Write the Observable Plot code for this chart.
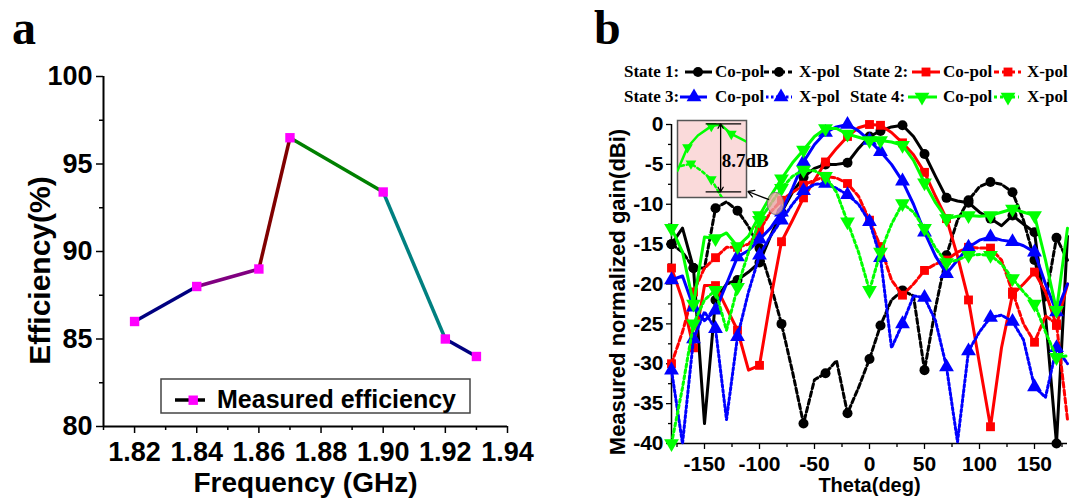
<!DOCTYPE html>
<html><head><meta charset="utf-8">
<script src="https://cdn.jsdelivr.net/npm/d3@7"></script>
<script src="https://cdn.jsdelivr.net/npm/@observablehq/plot@0.6"></script>
<style>
html,body{margin:0;padding:0;background:#fff;}
#root{position:relative;width:1085px;height:502px;overflow:hidden;background:#fff;}
#root > svg{position:absolute;overflow:visible;}
</style></head><body><div id="root"></div>
<script>
// ---------------- DATA: panel a ----------------
const frequencyGHz = [1.82, 1.84, 1.86, 1.87, 1.90, 1.92, 1.93];
const efficiencyPct = [86, 88, 89, 96.5, 93.4, 85, 84];
const effMajorY = [80, 85, 90, 95, 100];
const effMinorY = [82.5, 87.5, 92.5, 97.5];
const freqMajorX = [1.82, 1.84, 1.86, 1.88, 1.90, 1.92, 1.94];
const freqMinorX = [1.81, 1.83, 1.85, 1.87, 1.89, 1.91, 1.93];

// ---------------- DATA: panel b ----------------
const thetaDeg = [-180,-170,-160,-150,-140,-130,-120,-110,-100,-90,-80,-70,-60,-50,-40,-30,-20,-10,0,10,20,30,40,50,60,70,80,90,100,110,120,130,140,150,160,170,180];
const state1Co = [-15,-13,-18,-37.5,-22,-20,-19.5,-18.5,-17.3,-14,-11,-8.5,-6.6,-5.5,-5,-5,-4.8,-3,-1.5,-0.8,-0.3,-0.1,-1.5,-3.7,-6.5,-9.2,-9.6,-9.8,-11,-11.8,-12.7,-11.4,-12.5,-13.5,-24,-40,-14];
const state1X  = [-15,-16,-18,-18,-10.5,-9.7,-10.8,-12.8,-15.5,-20,-25,-31,-37.5,-32,-31.2,-29.6,-36.2,-33,-29.4,-25.2,-22,-20.8,-21.5,-30.8,-23,-16.4,-12,-9.5,-7.8,-7.2,-7.5,-8.5,-12,-17,-22,-14.2,-17];
const state2Co = [-18,-22,-28,-20.2,-20.2,-23,-25.8,-30.8,-30.2,-22,-14.7,-12,-9.2,-7,-4.7,-3,-1.5,-0.4,0,-0.1,-1,-2.3,-3.8,-6,-9,-11.8,-16.5,-22,-30,-37.9,-28,-21.3,-20,-18.5,-21,-25.2,-20];
const state2X  = [-30,-26,-21,-18,-16.7,-15.4,-15.4,-15,-13.3,-11,-9.5,-8.5,-7.6,-7,-6.5,-6.7,-7.4,-9,-12,-15.3,-19.5,-21.4,-20,-18.3,-17.5,-17,-16,-15.4,-15.5,-15.5,-17,-21,-25,-27.3,-24,-25,-37];
const state3Co = [-19.5,-19,-22.9,-24.6,-23.3,-20,-16.6,-15.8,-14.4,-13,-11,-8,-4.7,-2.5,-1,-0.3,0,-0.8,-2,-3.4,-5,-7.1,-10,-13.5,-16.5,-18.7,-17,-15.4,-14.5,-14.1,-14.5,-14.7,-15.2,-16,-20,-23.5,-20];
const state3X  = [-30.8,-40,-26.9,-23.5,-25.6,-37,-26.6,-21,-16.4,-14,-12,-10,-8.3,-7.5,-7.4,-8,-8.8,-10,-12.2,-16.7,-28,-25,-21.5,-21.7,-24.6,-30.4,-39.8,-28.4,-26,-24.2,-23.9,-24.7,-27,-32.9,-34.2,-28,-30];
const state4Co = [-13,-16,-22.5,-14.1,-14.3,-13.6,-15.3,-14,-11.4,-9,-6.8,-4.8,-3.2,-1.5,-0.5,-0.5,-1.2,-1.6,-2,-2,-2.2,-2.6,-4.5,-7.3,-9.8,-11.8,-11.5,-11.4,-11.5,-11.4,-11,-10.6,-11,-11.4,-17,-23.3,-13];
const state4X  = [-40,-33,-25,-22,-20.8,-25.8,-20.4,-16,-12,-10,-8,-6.5,-5.7,-5.8,-6.5,-8.5,-12.2,-16,-20.8,-16,-12.5,-9.9,-11,-13,-15.5,-17.3,-17,-16.4,-16.3,-16.4,-17.5,-19.3,-21,-22.5,-26,-29.2,-29];
const markerAngles = [-180,-160,-140,-120,-100,-80,-60,-40,-20,0,10,30,50,70,90,110,130,150,170];
const thetaMajor = [-150,-100,-50,0,50,100,150];
const thetaMinor = [-175,-125,-75,-25,25,75,125,175];
const gainMajor = [0,-5,-10,-15,-20,-25,-30,-35,-40];
const gainMinor = [-2.5,-7.5,-12.5,-17.5,-22.5,-27.5,-32.5,-37.5];

// inset (zoomed view of state 4 around its peak)
const insetCoTheta = [-50,-47.1,-44.1,-40.2,-37.5,-34.4,-30];
const insetCoGain  = [-6.0,-3.0,-1.5,-0.3,-0.1,-1.3,-2.3];
const insetXTheta  = [-49,-46.1,-43.1,-40.2,-36.8];
const insetXGain   = [-5.4,-5.1,-6.0,-7.1,-9.7];
const insetCoMarks = [-47.1,-40.2,-34.4];
const insetXMarks  = [-46.1,-40.2];
const insetDelta = 8.7;
const insetLabel = "8.7dB";

// ---------------- STYLES ----------------
const segColors = ["#000080","#800080","#800000","#008000","#008080","#000080"];
const SANS = "'Liberation Sans', Arial, sans-serif";
const SERIF = "'Liberation Serif', 'Times New Roman', serif";
const sqrt3 = Math.sqrt(3);
const triangleDown = {draw(ctx, size){const y=-Math.sqrt(size/(sqrt3*3));ctx.moveTo(0,-2*y);ctx.lineTo(-sqrt3*y,y);ctx.lineTo(sqrt3*y,y);ctx.closePath();}};
const ellipseSym = {draw(ctx,size){const r=Math.sqrt(size/Math.PI);const rx=r*0.74,ry=r,k=0.5523;ctx.moveTo(rx,0);ctx.bezierCurveTo(rx,ry*k,rx*k,ry,0,ry);ctx.bezierCurveTo(-rx*k,ry,-rx,ry*k,-rx,0);ctx.bezierCurveTo(-rx,-ry*k,-rx*k,-ry,0,-ry);ctx.bezierCurveTo(rx*k,-ry,rx,-ry*k,rx,0);ctx.closePath();}};

const seriesDefs = [
  {key:"s1x", values: state1X,  color:"#000000", dash:"5,3",   symbol:"circle",   r:5},
  {key:"s1c", values: state1Co, color:"#000000", dash:null,    symbol:"circle",   r:5},
  {key:"s2x", values: state2X,  color:"#ff0000", dash:"5,3",   symbol:"square",   r:5},
  {key:"s2c", values: state2Co, color:"#ff0000", dash:null,    symbol:"square",   r:5},
  {key:"s3x", values: state3X,  color:"#0000ff", dash:"2.5,2.5", symbol:"triangle", r:5.5},
  {key:"s3c", values: state3Co, color:"#0000ff", dash:null,    symbol:"triangle", r:5.5},
  {key:"s4x", values: state4X,  color:"#00ff00", dash:"3,3",   symbol:triangleDown, r:5.5},
  {key:"s4c", values: state4Co, color:"#00ff00", dash:null,    symbol:triangleDown, r:5.5}
];

const root = document.getElementById("root");

// ---------------- PANEL A ----------------
const effPts = frequencyGHz.map((f,i)=>({f, e: efficiencyPct[i]}));
const effSegs = effPts.slice(0,-1).map((p,i)=>({f1:p.f,e1:p.e,f2:effPts[i+1].f,e2:effPts[i+1].e,c:segColors[i]}));
const fmt = d => String(d);
const panelA = Plot.plot({
  width: 560, height: 502,
  marginLeft: 103, marginRight: 53, marginTop: 76, marginBottom: 76,
  x: {domain: [1.81, 1.94]},
  y: {domain: [80, 100]},
  style: {fontFamily: SANS, fontWeight: "bold", fontSize: "27px", color: "#000", background: "transparent", overflow: "visible"},
  marks: [
    Plot.axisY({ticks: effMajorY, tickSize: 7, tickPadding: 4, tickFormat: fmt, label: null, strokeWidth: 1.5}),
    Plot.axisY({ticks: effMinorY, tickSize: 4, tickFormat: () => "", label: null, strokeWidth: 1.5}),
    Plot.axisX({ticks: freqMajorX, tickSize: 7, tickPadding: 8, tickFormat: d3.format(".2f"), label: null, strokeWidth: 1.5}),
    Plot.axisX({ticks: freqMinorX, tickSize: 4, tickFormat: () => "", label: null, strokeWidth: 1.5}),
    Plot.ruleX([1.81], {strokeWidth: 2}),
    Plot.ruleY([80], {strokeWidth: 2}),
    Plot.link(effSegs, {x1:"f1", y1:"e1", x2:"f2", y2:"e2", stroke: d => d.c, strokeWidth: 3.5}),
    Plot.dot(effPts, {x:"f", y:"e", symbol:"square", r: 5.3, fill:"#ff00ff"}),
    Plot.text(["Frequency (GHz)"], {frameAnchor:"bottom", lineAnchor:"middle", textAnchor:"middle", dy: 57, fontSize: 28, fontWeight:"bold"}),
    Plot.text(["Efficiency(%)"], {frameAnchor:"left", lineAnchor:"middle", textAnchor:"middle", rotate: -90, dx: -63, dy: 19, fontSize: 30, fontWeight:"bold"})
  ]
});
panelA.style.left = "0px"; panelA.style.top = "0px";
root.appendChild(panelA);

// ---------------- PANEL B ----------------
const marks = [];
marks.push(
  Plot.axisY({ticks: gainMajor, tickSize: 5, tickPadding: 3, tickFormat: fmt, label: null, strokeWidth: 1.3}),
  Plot.axisY({ticks: gainMinor, tickSize: 3, tickFormat: () => "", label: null, strokeWidth: 1.3}),
  Plot.axisX({ticks: thetaMajor, tickSize: 6, tickPadding: 7, tickFormat: fmt, label: null, strokeWidth: 1.3}),
  Plot.axisX({ticks: thetaMinor, tickSize: 4, tickFormat: () => "", label: null, strokeWidth: 1.3}),
  Plot.ruleX([-180], {strokeWidth: 1.5}),
  Plot.ruleY([-40], {strokeWidth: 1.5})
);
for (const s of seriesDefs) {
  const rows = thetaDeg.map((t,i)=>({t, g: s.values[i]}));
  marks.push(Plot.line(rows, {x:"t", y:"g", stroke: s.color, strokeWidth: 3, strokeDasharray: s.dash || undefined}));
  marks.push(Plot.dot(rows.filter(d => markerAngles.includes(d.t)), {x:"t", y:"g", symbol: s.symbol, r: s.r, fill: s.color}));
}
// magnifier + arrow to inset
const magnifier = [{t: -85.5, g: -9.9}];
const magnifierArrow = [{t1: -91.8, g1: -9.4, t2: -110.5, g2: -8.4}];
marks.push(
  Plot.dot(magnifier, {x:"t", y:"g", symbol: ellipseSym, r: 11, fill:"#e8a4a4", fillOpacity: 0.8, stroke:"#777", strokeWidth: 1}),
  Plot.arrow(magnifierArrow, {x1:"t1", y1:"g1", x2:"t2", y2:"g2", stroke:"#000", strokeWidth: 1.3, headLength: 8}),
  Plot.text(["Theta(deg)"], {frameAnchor:"bottom", lineAnchor:"middle", textAnchor:"middle", dy: 42, fontSize: 20, fontWeight:"bold"}),
  Plot.text(["Measured normalized gain(dBi)"], {frameAnchor:"left", lineAnchor:"middle", textAnchor:"middle", rotate: -90, dx: -54, dy: 8, fontSize: 22, fontWeight:"bold"})
);
const panelB = Plot.plot({
  width: 525, height: 502,
  marginLeft: 111, marginRight: 18, marginTop: 124, marginBottom: 59,
  x: {domain: [-180, 180]},
  y: {domain: [-40, 0]},
  style: {fontFamily: SANS, fontWeight: "bold", fontSize: "21px", color: "#000", background: "transparent", overflow: "visible"},
  marks
});
panelB.style.left = "560px"; panelB.style.top = "0px";
root.appendChild(panelB);

// ---------------- INSET ----------------
const inCo = insetCoTheta.map((t,i)=>({t, g: insetCoGain[i]}));
const inX = insetXTheta.map((t,i)=>({t, g: insetXGain[i]}));
const inset = Plot.plot({
  width: 69, height: 77, margin: 0,
  x: {domain: [-50, -30], axis: null},
  y: {domain: [-9.43, 0.42], axis: null},
  style: {background: "transparent", overflow: "visible"},
  marks: [
    Plot.frame({fill: "#fadada", stroke: "#555", strokeWidth: 1.5}),
    Plot.line(inX, {x:"t", y:"g", stroke:"#00ff00", strokeWidth: 2.5, strokeDasharray:"3,3", clip: true}),
    Plot.line(inCo, {x:"t", y:"g", stroke:"#00ff00", strokeWidth: 2.5, clip: true}),
    Plot.dot(inCo.filter(d => insetCoMarks.includes(d.t)), {x:"t", y:"g", symbol: triangleDown, r: 4, fill:"#00ff00"}),
    Plot.dot(inX.filter(d => insetXMarks.includes(d.t)), {x:"t", y:"g", symbol: triangleDown, r: 4, fill:"#00ff00"}),
    Plot.ruleY([0, -insetDelta], {x1: -41.7, x2: -31.4, stroke:"#000", strokeWidth: 1.3}),
    Plot.arrow([{a: -insetDelta/2, b: 0}, {a: -insetDelta/2, b: -insetDelta}], {x1: () => -37.5, x2: () => -37.5, y1:"a", y2:"b", stroke:"#000", strokeWidth: 1.3, headLength: 6}),
    Plot.text([insetLabel], {x: () => -37.2, y: () => -4.7, textAnchor:"start", fontFamily: SERIF, fontWeight:"bold", fontSize: 19, fill:"#000"})
  ]
});
inset.style.left = "677px"; inset.style.top = "120px";
root.appendChild(inset);

// ---------------- OVERLAY: panel letters + legends ----------------
const ov = d3.create("svg").attr("width", 1085).attr("height", 502).style("left","0px").style("top","0px").style("pointer-events","none");
ov.append("text").attr("x", 12).attr("y", 44).attr("font-family", SERIF).attr("font-weight","bold").attr("font-size", 48).text("a");
ov.append("text").attr("x", 594).attr("y", 44).attr("font-family", SERIF).attr("font-weight","bold").attr("font-size", 48).text("b");

// panel a legend
const la = ov.append("g");
la.append("rect").attr("x",161).attr("y",379).attr("width",309).attr("height",34).attr("fill","#fff").attr("stroke","#444").attr("stroke-width",1.5);
la.append("line").attr("x1",175).attr("x2",205).attr("y1",400).attr("y2",400).attr("stroke","#000").attr("stroke-width",3.5);
la.append("rect").attr("x",188.5).attr("y",395.5).attr("width",9.4).attr("height",9.4).attr("fill","#ff00ff");
la.append("text").attr("x",217).attr("y",408).attr("font-family",SANS).attr("font-weight","bold").attr("font-size",25).text("Measured efficiency");

// panel b legend
const lb = ov.append("g").attr("font-family", SERIF).attr("font-weight","bold").attr("font-size", 17);
const legendRows = [
  {y: 72, items: [
    {label:"State 1:", lx:624},
    {s:0, x0:685, x1:712, m:698, text:"Co-pol", tx:715},
    {s:1, x0:764, x1:792, m:779, text:"X-pol", tx:799},
    {label:"State 2:", lx:853},
    {s:2, x0:912, x1:940, m:926, text:"Co-pol", tx:943},
    {s:3, x0:994, x1:1021, m:1008, text:"X-pol", tx:1027}]},
  {y: 97, items: [
    {label:"State 3:", lx:624},
    {s:4, x0:680, x1:707, m:694, text:"Co-pol", tx:715},
    {s:5, x0:766, x1:792, m:781, text:"X-pol", tx:799},
    {label:"State 4:", lx:850},
    {s:6, x0:908, x1:937, m:922, text:"Co-pol", tx:943},
    {s:7, x0:994, x1:1019, m:1008, text:"X-pol", tx:1027}]}
];
const legOrder = [seriesDefs[1], seriesDefs[0], seriesDefs[3], seriesDefs[2], seriesDefs[5], seriesDefs[4], seriesDefs[7], seriesDefs[6]];
const d3sym = {circle: d3.symbolCircle, square: d3.symbolSquare, triangle: d3.symbolTriangle};
for (const row of legendRows) {
  for (const it of row.items) {
    if (it.label) { lb.append("text").attr("x", it.lx).attr("y", row.y + 5).text(it.label); continue; }
    const s = legOrder[it.s];
    lb.append("line").attr("x1", it.x0).attr("x2", it.x1).attr("y1", row.y).attr("y2", row.y)
      .attr("stroke", s.color).attr("stroke-width", 3).attr("stroke-dasharray", s.dash || null);
    const type = typeof s.symbol === "string" ? d3sym[s.symbol] : s.symbol;
    lb.append("path").attr("d", d3.symbol(type, Math.PI * s.r * s.r)()).attr("transform", `translate(${it.m},${row.y})`).attr("fill", s.color);
    lb.append("text").attr("x", it.tx).attr("y", row.y + 5).text(it.text);
  }
}
root.appendChild(ov.node());
</script></body></html>
